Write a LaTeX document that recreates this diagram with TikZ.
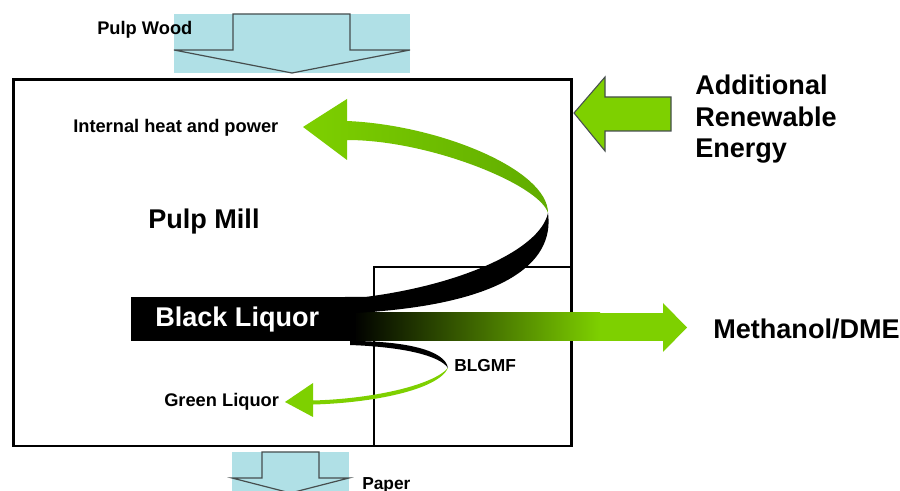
\documentclass[tikz,border=0pt]{standalone}
\usepackage{fontspec}
\setmainfont{Liberation Sans}
\definecolor{lgreen}{RGB}{126,208,0}
\definecolor{dgreen}{RGB}{96,172,0}
\definecolor{pwblue}{RGB}{176,224,230}
\definecolor{agray}{RGB}{70,78,78}
\begin{document}
\begin{tikzpicture}[x=0.75pt,y=-0.75pt,
  small/.style={inner sep=0pt, anchor=base west, font=\bfseries\fontsize{13.7}{16}\selectfont},
  big/.style={inner sep=0pt, anchor=base west, font=\bfseries\fontsize{20.3}{24}\selectfont},
  flowarrow/.style={fill=pwblue, draw=agray, line width=0.9pt, line join=miter},
  greenarrow/.style={fill=lgreen, draw=agray, line width=0.8pt, line join=miter},
  millbox/.style={draw=black, line width=1.9pt},
  gasbox/.style={draw=black, line width=1.1pt}]
\clip (0,0) rectangle (900,491);
\fill[white] (0,0) rectangle (900,491);

% boxes
\draw[millbox] (13.5,79.5) rectangle (571.5,446);
\draw[gasbox] (374,267) rectangle (571.5,446);

% pulp wood arrow
\fill[pwblue] (174,14) rectangle (410,73);
\draw[flowarrow] (174,50) -- (233,50) -- (233,14) -- (350,14) -- (350,50) -- (410,50) -- (292,73) -- cycle;

% paper arrow
\fill[pwblue] (232,452) rectangle (349,495);
\draw[flowarrow] (232,478) -- (262,478) -- (262,452) -- (319,452) -- (319,478) -- (349,478) -- (290.5,493) -- cycle;

% additional renewable energy arrow
\draw[greenarrow] (574,113) -- (605,77) -- (605,97) -- (671,97) -- (671,131) -- (605,131) -- (605,151) -- cycle;

% methanol / DME arrow
\shade[left color=black, right color=lgreen] (353,313) rectangle (600,341);
\fill[lgreen] (599.5,313) rectangle (664,341);
\fill[lgreen] (663,303) -- (687,327.5) -- (663,352) -- cycle;

% black liquor bar
\fill[black] (131,297) rectangle (356,341);

% upper ribbon, black part
\fill[black] (345,297) -- (365,297) .. controls (460,285) and (540,250) .. (548,213)
  .. controls (555,265) and (500,305) .. (355,313) -- (345,313) -- cycle;

% upper ribbon, green part with arrow head
\shade[left color=lgreen, right color=dgreen] (548,213) .. controls (548,170) and (440,125) .. (347,121)
  -- (347,99) -- (303,127) -- (347,160) -- (347,140)
  .. controls (430,140) and (540,185) .. (548,213) -- cycle;

% lower ribbon, black part
\fill[black] (350,341) .. controls (405,341) and (445,350) .. (448,368)
  .. controls (440,356) and (405,347) .. (350,345) -- cycle;

% lower ribbon, green part with arrow head
\fill[lgreen] (448,368) .. controls (432,386) and (370,399) .. (313,400.5)
  -- (313,383) -- (285,402) -- (313,417) -- (313,404.5)
  .. controls (372,403) and (438,390) .. (448,368) -- cycle;

% texts
\node[small] (pulpwood) at (97,35) {Pulp Wood};
\node[small] (internal) at (73,133) {Internal heat and power};
\node[big] (pulpmill) at (148,229) {Pulp Mill};
\node[big, text=white] (blackliquor) at (155,327) {Black Liquor};
\node[small] (greenliquor) at (164,407) {Green Liquor};
\node[small, font=\bfseries\fontsize{13}{16}\selectfont] (blgmf) at (454,372) {BLGMF};
\node[small, font=\bfseries\fontsize{13}{16}\selectfont] (paper) at (362,489) {Paper};
\node[big] (methanol) at (713,339) {Methanol/DME};
\node[big] (add1) at (695,95) {Additional};
\node[big] (add2) at (695,127) {Renewable};
\node[big] (add3) at (695,158) {Energy};
\end{tikzpicture}
\end{document}
